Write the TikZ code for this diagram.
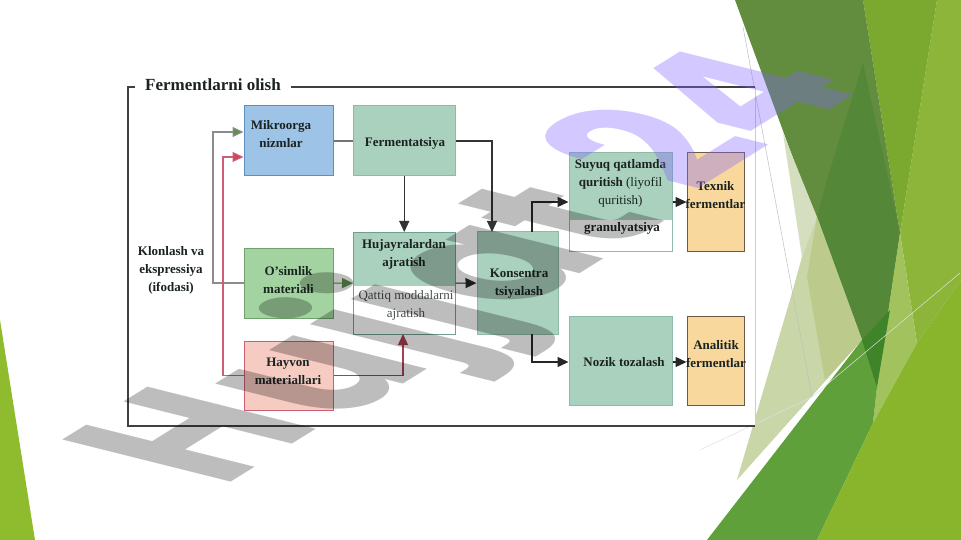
\documentclass[tikz,border=0pt]{standalone}
\usepackage{fontspec}
\setmainfont{Liberation Serif}
\newfontfamily\markfont{Poppins}
\usetikzlibrary{calc,arrows.meta}

\definecolor{mintfill}{HTML}{A9D1BD}
\definecolor{mintline}{HTML}{8DBBA6}
\definecolor{tealline}{HTML}{6FA08F}
\definecolor{skyfill}{HTML}{9DC3E6}
\definecolor{skyline}{HTML}{5B8FC0}
\definecolor{leaffill}{HTML}{A3D3A0}
\definecolor{leafline}{HTML}{6FA36B}
\definecolor{rosefill}{HTML}{F6CBC2}
\definecolor{roseline}{HTML}{CC5F72}
\definecolor{sandfill}{HTML}{F8D89C}
\definecolor{sandline}{HTML}{6B5A45}
\definecolor{arrowgreen}{HTML}{5E8F4C}
\definecolor{arrowred}{HTML}{D1445F}
\definecolor{arrowdark}{HTML}{A5404F}
\definecolor{inkdark}{HTML}{1A2321}

\tikzset{
  boxtext/.style={font=\fontsize{13}{18}\selectfont\bfseries,align=center,text=inkdark,inner sep=0pt},
  thintext/.style={font=\fontsize{13}{18}\selectfont,align=center,text=inkdark!80,inner sep=0pt},
  arrowed/.style={-{Triangle[length=11pt,width=10pt]},line width=1.2pt},
  markgray/.style={font=\markfont\bfseries\fontsize{100}{100}\selectfont,text=black,text opacity=0.26,inner sep=0pt,anchor=base west,transform shape},
  markpurple/.style={font=\markfont\bfseries\fontsize{100}{100}\selectfont,text={rgb,255:red,130;green,100;blue,255},text opacity=0.35,inner sep=0pt,anchor=base west,transform shape}
}

\begin{document}
\begin{tikzpicture}[x=1pt,y=-1pt]
    \useasboundingbox (0,0) rectangle (961,540);
    \fill[white] (0,0) rectangle (961,540);

    % green shapes behind
    \fill[fill={rgb,255:red,143;green,188;blue,47}] (0,320) -- (35,540) -- (0,540) -- cycle;
    \fill[fill={rgb,255:red,141;green,181;blue,58}] (937,0) -- (961,0) -- (961,280) -- (917,343) -- (900,233) -- cycle;
    \fill[fill={rgb,255:red,123;green,168;blue,47}] (863,0) -- (937,0) -- (900,233) -- cycle;
    \fill[fill={rgb,255:red,98;green,140;blue,62}] (735,0) -- (863,0) -- (900,233) -- (877,387) -- cycle;
    \fill[fill={rgb,255:red,85;green,135;blue,56}] (863,63) -- (900,233) -- (877,387) -- (817,217) -- (827,180) -- cycle;
    \fill[fill={rgb,255:red,213;green,223;blue,192}] (783,133) -- (817,217) -- (802,257) -- cycle;
    \fill[fill={rgb,255:red,200;green,214;blue,168}] (817,217) -- (862,340) -- (737,480) -- (792,293) -- (802,257) -- cycle;
    \fill[fill={rgb,255:red,188;green,203;blue,140}] (817,217) -- (862,340) -- (825,380) -- (807,277) -- cycle;
    \fill[fill={rgb,255:red,162;green,194;blue,94}] (900,233) -- (917,343) -- (873,423) -- (877,387) -- cycle;
    \fill[fill={rgb,255:red,95;green,160;blue,58}] (862,340) -- (877,387) -- (873,423) -- (817,540) -- (707,540) -- cycle;
    \fill[fill={rgb,255:red,63;green,132;blue,40}] (862,340) -- (890,310) -- (877,387) -- cycle;
    \fill[fill={rgb,255:red,136;green,181;blue,43}] (961,280) -- (961,540) -- (817,540) -- (873,423) -- (917,343) -- cycle;
    \draw[black!25,line width=0.5pt] (743,27) -- (812,397);
    \draw[black!12,line width=0.5pt] (700,450) -- (812,397) -- (960,273);

    % frame with the title
    \fill[white] (128,87) rectangle (755,426);
    \draw[black!75,line width=1.2pt] (135,87) -- (128,87) -- (128,426) -- (755,426);
    \draw[black!75,line width=1.2pt] (291,87) -- (755,87);
    \draw[black!20,line width=0.7pt] (755,87) -- (755,426);
    \node[font=\fontsize{17}{17}\selectfont\bfseries,text=inkdark,inner sep=0pt] (title) at (213,85) {Fermentlarni olish};

    % boxes
    \fill[mintfill] (353.5,232.5) rectangle (455,286);
    \fill[mintfill] (569,153) rectangle (672,220);
    \node[draw=skyline,fill=skyfill,line width=1pt,minimum width=89pt,minimum height=70pt] (mikro) at (288.5,141) {};
    \node[draw=mintline,fill=mintfill,line width=1pt,minimum width=101.5pt,minimum height=70pt] (ferment) at (404.25,141) {};
    \node[draw=leafline,fill=leaffill,line width=1pt,minimum width=89pt,minimum height=70pt] (osimlik) at (288.5,283) {};
    \node[draw=tealline,line width=1pt,minimum width=101.5pt,minimum height=101.5pt] (hujayra) at (404.25,283.25) {};
    \node[draw=roseline,fill=rosefill,line width=1pt,minimum width=89pt,minimum height=69pt] (hayvon) at (288.5,375.5) {};
    \node[draw=mintline,fill=mintfill,line width=1pt,minimum width=81pt,minimum height=102pt] (konsentra) at (517.5,283) {};
    \node[draw=mintline,line width=1pt,minimum width=103pt,minimum height=98pt] (suyuq) at (620.5,202) {};
    \node[draw=sandline,fill=sandfill,line width=1pt,minimum width=57pt,minimum height=98pt] (texnik) at (715.5,202) {};
    \node[draw=mintline,fill=mintfill,line width=1pt,minimum width=103pt,minimum height=89pt] (nozik) at (620.5,360.5) {};
    \node[draw=sandline,fill=sandfill,line width=1pt,minimum width=57pt,minimum height=89pt] (analitik) at (715.5,360.5) {};

    % texts in the boxes
    \node[boxtext] (mikrotext) at (281,134) {Mikroorga\\nizmlar};
    \node[boxtext] (fermenttext) at (405,143) {Fermentatsiya};
    \node[boxtext] (osimliktext) at (288.5,280) {O'simlik\\materiali};
    \node[boxtext] (hujayratext) at (404,254) {Hujayralardan\\ajratish};
    \node[thintext] (qattiqtext) at (406,305) {Qattiq moddalarni\\ajratish};
    \node[boxtext] (hayvontext) at (288,371) {Hayvon\\materiallari};
    \node[boxtext] (konsentratext) at (519,284) {Konsentra\\tsiyalash};
    \node[boxtext] (suyuqtext) at (620.5,183) {Suyuq qatlamda\\quritish \textmd{(liyofil}\\\textmd{quritish)}};
    \node[boxtext] (granultext) at (622,228) {granulyatsiya};
    \node[boxtext] (texniktext) at (715.5,195) {Texnik\\fermentlar};
    \node[boxtext] (noziktext) at (624,362) {Nozik tozalash};
    \node[boxtext] (analitiktext) at (716,354) {Analitik\\fermentlar};
    \node[boxtext] (klonlash) at (171,270) {Klonlash va\\ekspressiya\\(ifodasi)};

    % connectors
    \coordinate (greentop) at (213,132);
    \coordinate (greenend) at (mikro.west |- greentop);
    \coordinate (redtop) at (223,157);
    \coordinate (redend) at (mikro.west |- redtop);
    \coordinate (downin) at (492,232);
    \coordinate (upfoot) at (532,232);
    \coordinate (lowfoot) at (532,334);
    \coordinate (hayvonup) at (403,334);

    \draw[black!55,line width=1.2pt] (mikro) -- (ferment);
    \draw[arrowed,black!80] (ferment) -- (hujayra);
    \draw[arrowed,black!80] (ferment.east) -| (downin);
    \draw[arrowed,black!45,-{Triangle[length=11pt,width=10pt,fill=arrowgreen]}] (osimlik.west) -| (greentop) -- (greenend);
    \draw[arrowed,roseline,-{Triangle[length=11pt,width=10pt,fill=arrowred]}] (hayvon.west) -| (redtop) -- (redend);
    \draw[arrowed,arrowgreen] (osimlik) -- (hujayra);
    \draw[arrowed,arrowdark] (hayvon.east) -| (hayvonup);
    \draw[arrowed,black!85] (hujayra) -- (konsentra);
    \draw[arrowed,black!85] (upfoot) |- (suyuq.west);
    \draw[arrowed,black!85] (lowfoot) |- ($(nozik.west)+(0,1.5)$);
    \draw[arrowed,black!85] (suyuq) -- (texnik);
    \draw[arrowed,black!85] ($(nozik.east)+(0,1.5)$) -- ($(analitik.west)+(0,1.5)$);

    % watermark on top
    \node[markgray,cm={1.4,0.87,-2.4,0.6,(222,488)}] (hujjat) at (0,0) {H\kern5pt\raisebox{-4pt}{ujjat}};
    \node[markpurple,cm={1.4,0.87,-2.4,0.6,(695,193)}] (nomer) at (0,0) {24};
\end{tikzpicture}
\end{document}
